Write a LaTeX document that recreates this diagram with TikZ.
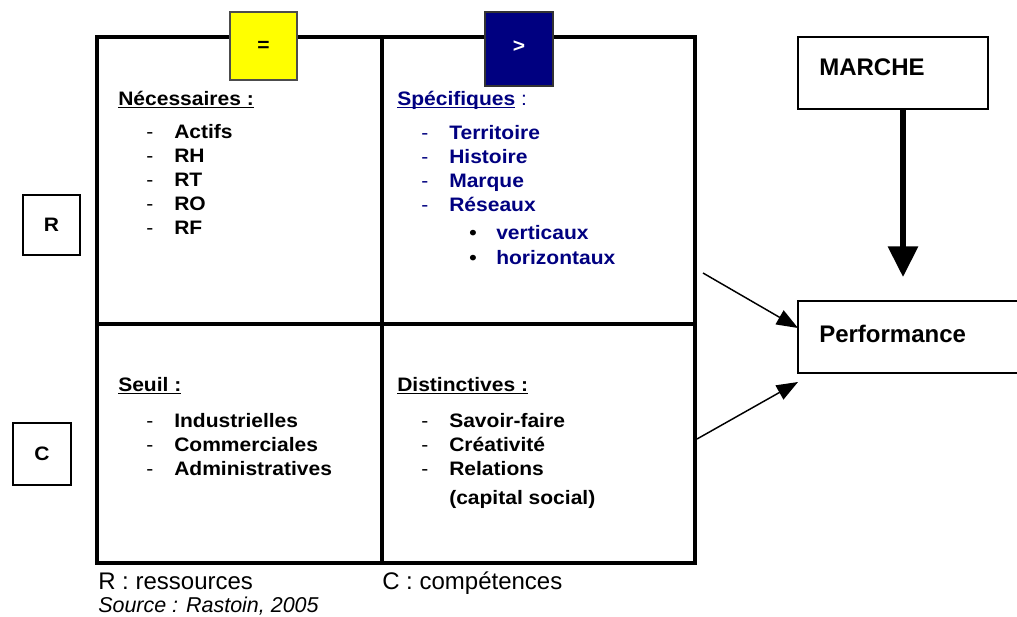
\documentclass[tikz,border=0pt]{standalone}
\usepackage{fontspec}
\setmainfont{Liberation Sans}
\newfontfamily\gridfont[FakeStretch=1.08]{Liberation Sans}
\usetikzlibrary{arrows.meta}
\definecolor{navy}{RGB}{0,0,128}
\definecolor{ybox}{RGB}{255,255,0}
\newcommand\ulx[1]{\setbox0\hbox{#1}\rlap{\rule[-2.4pt]{\wd0}{1.1pt}}\box0}
\begin{document}
\begin{tikzpicture}[x=0.75pt,y=-0.75pt,
  gt/.style={anchor=base west,inner sep=0pt,font=\gridfont\fontsize{14.6}{16}\selectfont\bfseries},
  gd/.style={anchor=base west,inner sep=0pt,font=\gridfont\fontsize{14.6}{16}\selectfont},
  gc/.style={inner sep=0pt,font=\gridfont\fontsize{14.6}{16}\selectfont\bfseries},
  gridline/.style={line width=2.3pt},
  box/.style={draw,line width=1.1pt,inner sep=0pt},
  bigt/.style={anchor=base west,inner sep=0pt,font=\fontsize{18}{20}\selectfont},
  thinarrow/.style={line width=1.1pt,-{Triangle[length=16pt,width=12pt]}},
  thickarrow/.style={line width=4pt,-{Triangle[length=23pt,width=22pt]}},
]
\useasboundingbox (0,0) rectangle (1017,617);
% grid
\draw[gridline] (97,37) rectangle (695,563);
\draw[gridline] (382,37) -- (382,563);
\draw[gridline] (97,324) -- (695,324);
% top markers
\node[box,draw=black!70,line width=1.5pt,fill=ybox,minimum width=50.5pt,minimum height=51pt] (eqbox) at (263.5,46) {};
\node[gc] (eqtxt) at (263.5,46) {=};
\node[box,draw=black!80,line width=1.5pt,fill=navy,minimum width=51pt,minimum height=55.5pt] (gtbox) at (519,49) {};
\node[gc,text=white] (gttxt) at (519,47) {>};
% R and C boxes
\node[box,minimum width=42.75pt,minimum height=45pt] (rbox) at (51.5,225) {};
\node[gc] (rtxt) at (51.5,225) {R};
\node[box,minimum width=43.5pt,minimum height=46.5pt] (cbox) at (42,454) {};
\node[gc] (ctxt) at (42,454) {C};
% top-left cell
\node[gt] (nec) at (118,105) {\ulx{Nécessaires :}};
\foreach \t [count=\i] in {Actifs,RH,RT,RO,RF}{
  \node[gd] (necd\i) at (146,{138+24*(\i-1)}) {-};
  \node[gt] (neci\i) at (174,{138+24*(\i-1)}) {\t};
}
% top-right cell
\node[gt,text=navy] (spe) at (397,105) {\ulx{Spécifiques}{\mdseries\ :}};
\foreach \t [count=\i] in {Territoire,Histoire,Marque,Réseaux}{
  \node[gd,text=navy] (sped\i) at (421,{139+24*(\i-1)}) {-};
  \node[gt,text=navy] (spei\i) at (449,{139+24*(\i-1)}) {\t};
}
\node[gt] (b1) at (469,239) {•};
\node[gt,text=navy] (b1t) at (496,239) {verticaux};
\node[gt] (b2) at (469,264) {•};
\node[gt,text=navy] (b2t) at (496,264) {horizontaux};
% bottom-left cell
\node[gt] (seuil) at (118,391) {\ulx{Seuil :}};
\foreach \t [count=\i] in {Industrielles,Commerciales,Administratives}{
  \node[gd] (seud\i) at (146,{427+24*(\i-1)}) {-};
  \node[gt] (seui\i) at (174,{427+24*(\i-1)}) {\t};
}
% bottom-right cell
\node[gt] (dist) at (397,391) {\ulx{Distinctives :}};
\foreach \t [count=\i] in {Savoir-faire,Créativité,Relations}{
  \node[gd] (disd\i) at (421,{427+24*(\i-1)}) {-};
  \node[gt] (disi\i) at (449,{427+24*(\i-1)}) {\t};
}
\node[gt] (cap) at (449,504) {(capital social)};
% right side
\node[box,minimum width=142.5pt,minimum height=54pt] (marche) at (893,73) {};
\node[bigt,font=\fontsize{18}{20}\selectfont\bfseries] (marchetxt) at (819,76) {MARCHE};
\node[box,minimum width=181.5pt,minimum height=54pt] (perf) at (919,337) {};
\node[bigt,font=\fontsize{18}{20}\selectfont\bfseries] (perftxt) at (819,342) {Performance};
\coordinate (mstart) at (903,109);
\coordinate (mtip) at (903,277);
\draw[thickarrow] (mstart) -- (mtip);
\coordinate (a1s) at (703,273);
\coordinate (a1e) at (798,328);
\draw[thinarrow] (a1s) -- (a1e);
\coordinate (a2s) at (697,439);
\coordinate (a2e) at (798,382);
\draw[thinarrow] (a2s) -- (a2e);
% legend
\node[bigt] (legr) at (98,589) {R : ressources};
\node[bigt] (legc) at (382,589) {C : compétences};
\node[bigt,font=\fontsize{16.1}{18}\selectfont\itshape] (src) at (98,612) {Source : Rastoin, 2005};
\end{tikzpicture}
\end{document}
